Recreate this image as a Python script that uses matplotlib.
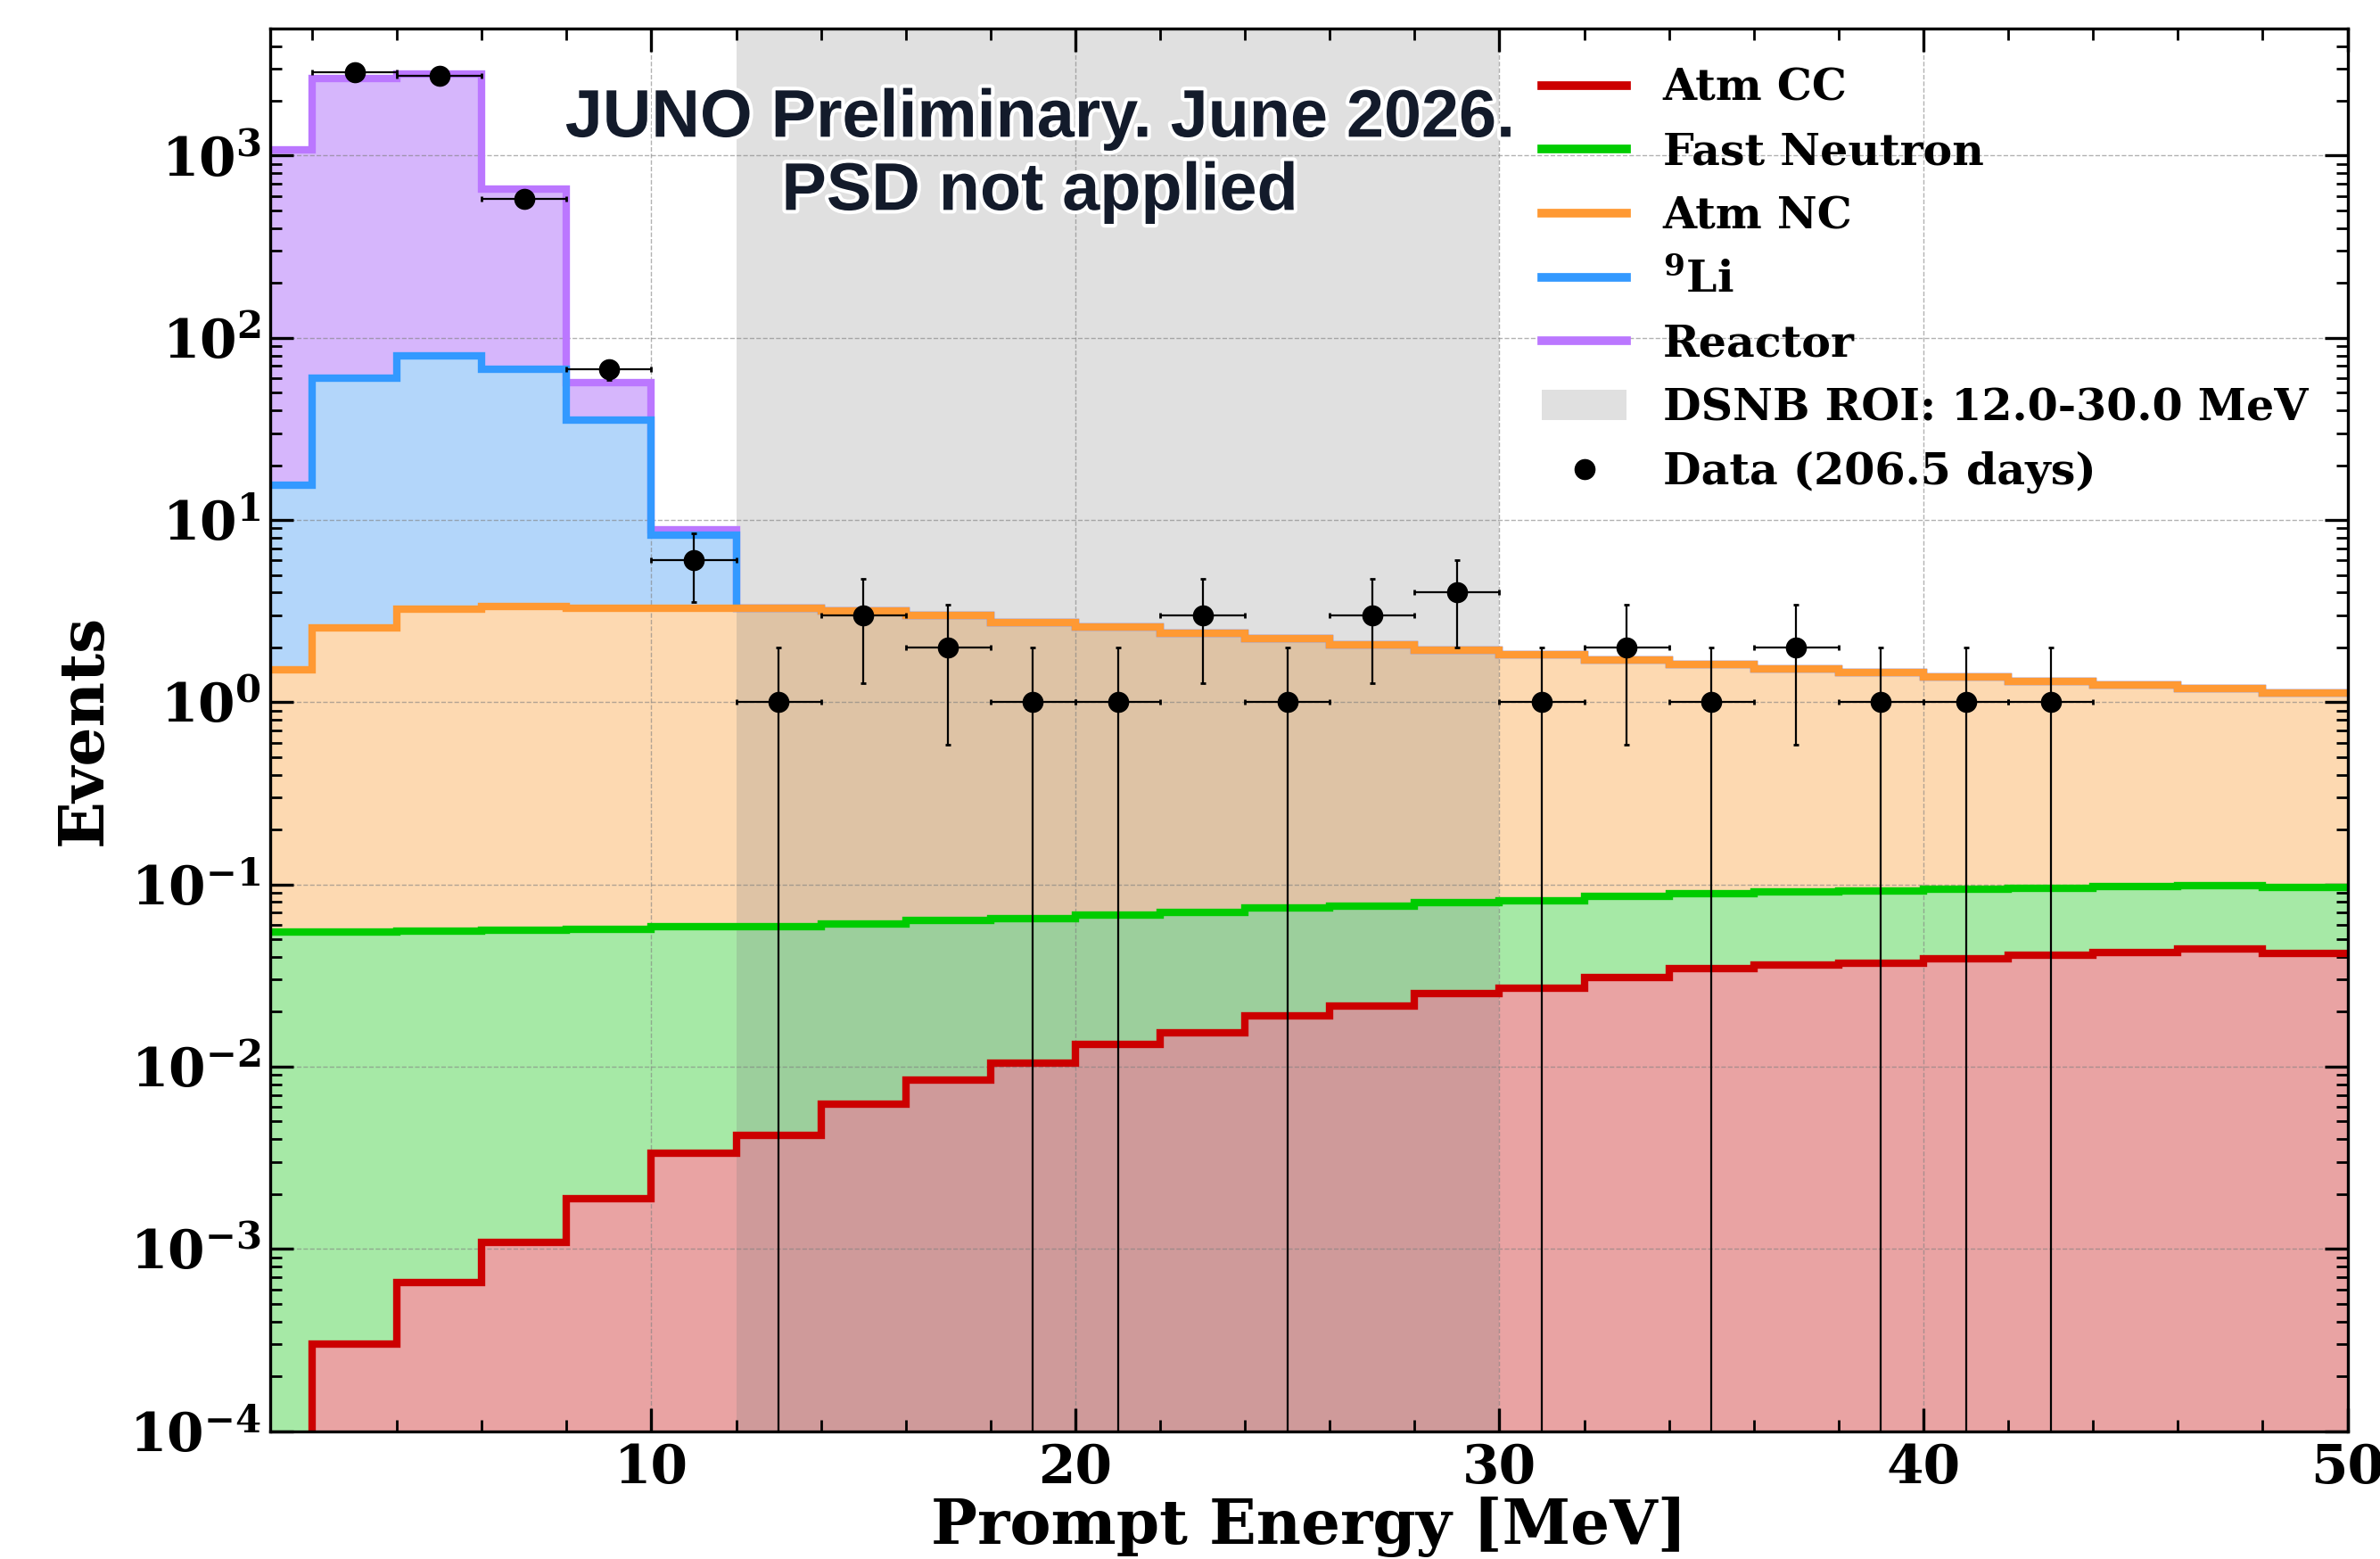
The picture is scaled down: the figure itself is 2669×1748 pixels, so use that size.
import numpy as np
import matplotlib
matplotlib.use("Agg")
import matplotlib.pyplot as plt
import matplotlib.patheffects as pe
from matplotlib.lines import Line2D
from matplotlib.patches import Patch
from matplotlib.ticker import MultipleLocator, LogLocator, NullFormatter

plt.rcParams['font.family'] = 'DejaVu Serif'
plt.rcParams['font.weight'] = 'bold'
plt.rcParams['mathtext.fontset'] = 'dejavuserif'

# 2 MeV bins of prompt energy
bin_edges = np.arange(0, 52, 2)

# Expected background per bin (events), listed bottom-to-top of the stack
atm_cc = [5e-5, 3.0e-4, 6.5e-4, 1.08e-3, 1.88e-3, 3.35e-3, 4.2e-3, 6.2e-3, 8.4e-3,
          1.04e-2, 1.33e-2, 1.53e-2, 1.9e-2, 2.14e-2, 2.52e-2, 2.7e-2, 3.1e-2,
          3.46e-2, 3.6e-2, 3.7e-2, 3.93e-2, 4.09e-2, 4.25e-2, 4.43e-2, 4.19e-2]
fast_neutron = [0.0548, 0.0548, 0.0549, 0.0550, 0.0550, 0.0550, 0.0546, 0.0545,
                0.0547, 0.0546, 0.0548, 0.0548, 0.0550, 0.0546, 0.0546, 0.0547,
                0.0554, 0.0541, 0.0551, 0.0547, 0.0552, 0.0547, 0.0553, 0.0546,
                0.0541]
atm_nc = [1.445, 2.515, 3.19, 3.31, 3.22, 3.22, 3.21, 3.12, 2.93, 2.67, 2.51,
          2.32, 2.15, 1.99, 1.85, 1.74, 1.62, 1.52, 1.43, 1.36, 1.28, 1.21,
          1.14, 1.09, 1.03]
li9 = [14.1, 57.3, 76.2, 63.6, 32.2, 5.0, 0, 0, 0, 0, 0, 0, 0, 0, 0, 0, 0, 0,
       0, 0, 0, 0, 0, 0, 0]
reactor = [1061, 2580, 2740, 588, 21.5, 0.6, 0, 0, 0, 0, 0, 0, 0, 0, 0, 0, 0,
           0, 0, 0, 0, 0, 0, 0, 0]

component_labels = ["Atm CC", "Fast Neutron", "Atm NC", r"$^{9}$Li", "Reactor"]
line_colors = ["#cc0000", "#00cc00", "#ff9933", "#3399ff", "#bb77ff"]
fill_colors = ["#e9a3a3", "#a6e9a6", "#fdd9b1", "#b3d6fa", "#d6b6fc"]

# Observed events (206.5 days)
data_energy = [3, 5, 7, 9, 11, 13, 15, 17, 19, 21, 23, 25, 27, 29, 31, 33, 35,
               37, 39, 41, 43]
data_counts = [2863, 2731, 576, 67, 6, 1, 3, 2, 1, 1, 3, 1, 3, 4, 1, 2, 1, 2,
               1, 1, 1]

roi_low, roi_high = 12.0, 30.0

fig = plt.figure(figsize=(2669 / 200, 1748 / 200), dpi=200)
ax = fig.add_axes([0.11334, 0.08209, 0.87299, 0.89977])
ax.set_yscale('log')

components = [atm_cc, fast_neutron, atm_nc, li9, reactor]
tops = np.cumsum(np.array(components, dtype=float), axis=0)
bottoms = [np.full(len(atm_cc), 1e-7)] + [tops[i] for i in range(len(tops) - 1)]

# filled stack, bottom component first
for i in range(len(tops)):
    ax.stairs(tops[i], bin_edges, baseline=bottoms[i], fill=True,
              color=fill_colors[i], lw=0, zorder=1)

ax.axvspan(roi_low, roi_high, color='gray', alpha=0.245, lw=0, zorder=1.1)

# outlines, top component first so lower outlines stay visible
for i in reversed(range(len(tops))):
    ax.stairs(tops[i], bin_edges, baseline=None, color=line_colors[i],
              lw=3, zorder=2)

counts = np.array(data_counts, dtype=float)
ax.errorbar(data_energy, counts, xerr=1.0, yerr=np.sqrt(counts), fmt='o',
            color='k', ms=7.5, elinewidth=0.8, capsize=1.0, capthick=1.0,
            zorder=5)

ax.set_xlim(1, 50)
ax.set_ylim(1e-4, 5000)
ax.xaxis.set_major_locator(MultipleLocator(10))
ax.xaxis.set_minor_locator(MultipleLocator(2))
ax.yaxis.set_major_locator(LogLocator(base=10, numticks=20))
ax.yaxis.set_minor_locator(LogLocator(base=10, subs=np.arange(2, 10), numticks=20))
ax.yaxis.set_minor_formatter(NullFormatter())

ax.set_axisbelow('line')
ax.grid(True, which='major', linestyle='--', linewidth=0.5, color='gray', alpha=0.6)

ax.tick_params(which='both', direction='in', top=True, right=True, labelsize=21.5)
ax.tick_params(which='major', length=9.5, width=1.2)
ax.tick_params(which='minor', length=4.7, width=1.0)
ax.tick_params(axis='x', pad=4.5)
for sp in ax.spines.values():
    sp.set_linewidth(1.2)

ax.set_xlabel("Prompt Energy [MeV]", fontsize=24.9, fontweight='bold', labelpad=1)
ax.set_ylabel("Events", fontsize=25, fontweight='bold', labelpad=6)

ax.text(0.3706, 0.909, "JUNO Preliminary. June 2026.\nPSD not applied",
        transform=ax.transAxes, ha='center', va='center', multialignment='center',
        fontsize=27.2, fontweight='bold', family='Liberation Sans', color='#131b2b',
        linespacing=1.2, zorder=6,
        path_effects=[pe.withStroke(linewidth=3, foreground='white')])

handles = [Line2D([], [], color=c, lw=3.5) for c in line_colors]
handles.append(Patch(facecolor='gray', alpha=0.245, lw=0))
handles.append(Line2D([], [], marker='o', ls='none', color='k', ms=7.5))
labels = component_labels + [f"DSNB ROI: {roi_low:.1f}-{roi_high:.1f} MeV",
                             "Data (206.5 days)"]
ax.legend(handles, labels, loc='upper right', frameon=False, fontsize=17.7,
          handlelength=1.95, handletextpad=0.82, labelspacing=0.50)

fig.savefig("out.png", dpi=200)
